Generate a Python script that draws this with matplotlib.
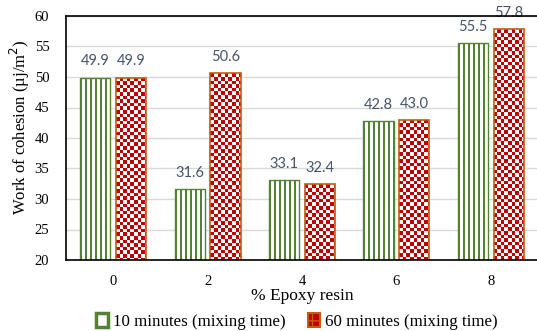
import numpy as np
import matplotlib
matplotlib.use("Agg")
import matplotlib.pyplot as plt
from matplotlib.patches import Patch
from matplotlib.colors import ListedColormap

categories = ["0", "2", "4", "6", "8"]
series_names = ["10 minutes (mixing time)", "60 minutes (mixing time)"]
vals_10 = [49.9, 31.6, 33.1, 42.8, 55.5]
vals_60 = [49.9, 50.6, 32.4, 43.0, 57.8]
yticks = [20, 25, 30, 35, 40, 45, 50, 55, 60]

fig = plt.figure(figsize=(5.37, 3.31), dpi=100)
ax_w_px, ax_h_px = 472, 244
ax = fig.add_axes([66/537, 1-260/331, ax_w_px/537, ax_h_px/331])

x = np.arange(len(categories))
w = 0.32
off = 0.19
green = "#548235"
red = "#C00000"
orange = "#C55A11"
lblc = "#44546A"
ymin, ymax = 20, 60
ax.set_xlim(-0.5, 4.5)
ax.set_ylim(ymin, ymax)
px_x = 5.0 / ax_w_px
px_y = (ymax - ymin) / ax_h_px

b1 = ax.bar(x - off, vals_10, w, color="none", edgecolor=green, linewidth=1.0, zorder=4)
b2 = ax.bar(x + off, vals_60, w, color="none", edgecolor=orange, linewidth=1.2, zorder=4)

# vertical stripe fill for green bars (period 5 px, 2 px green)
for rect in b1:
    x0 = rect.get_x()
    x1 = x0 + rect.get_width()
    top = rect.get_height()
    edges = [x0]
    cols = []
    k = 0
    while edges[-1] < x1 - 1e-9:
        step = 2.0 if k % 2 == 0 else 3.0
        edges.append(min(edges[-1] + step * px_x, x1))
        cols.append(1.0 if k % 2 == 0 else 0.0)
        k += 1
    ys = np.array([ymin, top])
    c = np.array(cols)[None, :]
    ax.pcolormesh(np.array(edges), ys, c, cmap=ListedColormap(["white", green]),
                  vmin=0, vmax=1, zorder=3.5, shading="flat", antialiased=False)

# checkerboard fill for red bars
cs = 3.6
for rect in b2:
    x0 = rect.get_x()
    x1 = x0 + rect.get_width()
    top = rect.get_height()
    nx = int(np.ceil((x1 - x0) / (cs * px_x)))
    ny = int(np.ceil((top - ymin) / (cs * px_y)))
    xs = np.minimum(x0 + np.arange(nx + 1) * cs * px_x, x1)
    ys = np.maximum(top - np.arange(ny + 1)[::-1] * cs * px_y, ymin)
    c = (np.add.outer(np.arange(ny), np.arange(nx)) % 2).astype(float)
    ax.pcolormesh(xs, ys, c, cmap=ListedColormap(["white", red]),
                  vmin=0, vmax=1, zorder=3.5, shading="flat", antialiased=False)

for xs_, vs in ((x - off, vals_10), (x + off, vals_60)):
    for xi, v in zip(xs_, vs):
        ax.text(xi, v + 1.5, f"{v:.1f}", ha="center", va="bottom", fontsize=10.5,
                color=lblc, family="Lato", zorder=5)

ax.set_xticks(x)
ax.set_xticklabels(categories, family="Liberation Serif", fontsize=10.5)
ax.set_yticks(yticks)
ax.set_yticklabels([str(t) for t in yticks], family="Liberation Serif", fontsize=10.5)
ax.tick_params(axis="x", length=0, pad=11)
ax.tick_params(axis="y", length=0, pad=12)
ax.yaxis.grid(True, color="#D9D9D9", linewidth=1.0, zorder=0)
ax.set_axisbelow(True)
for s in ["left", "top", "bottom"]:
    ax.spines[s].set_color("black")
    ax.spines[s].set_linewidth(1.2)
    ax.spines[s].set_zorder(6)
ax.spines["right"].set_visible(False)

ax.set_xlabel("% Epoxy resin", family="Liberation Serif", fontsize=12.5, labelpad=0)
ax.set_ylabel("Work of cohesion (µj/m$^2$)", family="Liberation Serif", fontsize=12)
ax.yaxis.set_label_coords((32 - 66) / ax_w_px, (260 - 127) / ax_h_px)

handles = [Patch(facecolor="white", edgecolor=green, linewidth=2.5, label=series_names[0]),
           Patch(facecolor=red, edgecolor=orange, linewidth=1.5, hatch="++", label=series_names[1])]
fig.legend(handles=handles, loc="center", bbox_to_anchor=(0.553, 0.03), ncol=2, frameon=False,
           prop={"family": "Liberation Serif", "size": 12.2}, handlelength=0.7, handleheight=0.9,
           handletextpad=0.3, columnspacing=1.3)

fig.savefig("out.png", dpi=100)
